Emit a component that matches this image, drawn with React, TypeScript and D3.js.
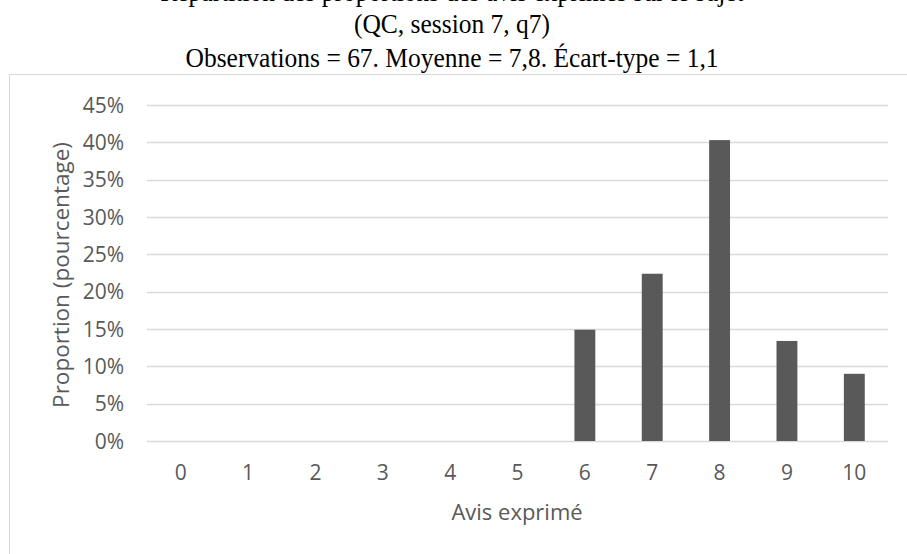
import React from "react";
import * as d3 from "d3";

const categories = ["0", "1", "2", "3", "4", "5", "6", "7", "8", "9", "10"];
const proportions = [0, 0, 0, 0, 0, 0, 0.149, 0.224, 0.403, 0.134, 0.09];
const yTicks = [0, 0.05, 0.1, 0.15, 0.2, 0.25, 0.3, 0.35, 0.4, 0.45];
const titleLines = [
  "Répartition des proportions des avis exprimés sur le sujet",
  "(QC, session 7, q7)",
  "Observations = 67. Moyenne = 7,8. Écart-type = 1,1",
];
const xTitle = "Avis exprimé";
const yTitle = "Proportion (pourcentage)";

const W = 907;
const H = 554;
const TEXT = "#595959";
const GRID = "#d9d9d9";
const SANS = "'Open Sans', 'Noto Sans', sans-serif";

export default function App() {
  const x = d3
    .scaleBand<string>()
    .domain(categories)
    .range([147, 888])
    .paddingInner(0.69)
    .paddingOuter(0.345);
  const y = d3.scaleLinear().domain([0, 0.45]).range([441, 105]);
  const fmt = d3.format(".0%");
  const titleBaselines = [1, 33, 67];

  return (
    <svg
      width={W}
      height={H}
      style={{ position: "absolute", left: 0, top: 0, background: "#fff" }}
    >
      <rect x={9.5} y={74.5} width={W + 20} height={H} fill="#fff" stroke={GRID} strokeWidth={1} />
      {titleLines.map((t, i) => (
        <text
          key={i}
          transform={`translate(452,${titleBaselines[i]}) scale(1,1.1)`}
          textAnchor="middle"
          fontFamily="'Liberation Serif', 'Times New Roman', serif"
          fontSize={25.5}
          fill="#000"
        >
          {t}
        </text>
      ))}
      {yTicks.map((t) => (
        <g key={t}>
          <line x1={147} x2={888} y1={Math.round(y(t)) + 0.5} y2={Math.round(y(t)) + 0.5} stroke={GRID} strokeWidth={1.3} />
          <text x={124} y={y(t) + 7.5} textAnchor="end" fontFamily={SANS} fontSize={21} fill={TEXT}>
            {fmt(t)}
          </text>
        </g>
      ))}
      {categories.map((c, i) => (
        <g key={c}>
          {proportions[i] > 0 && (
            <rect
              x={x(c)}
              y={y(proportions[i])}
              width={x.bandwidth()}
              height={y(0) - y(proportions[i])}
              fill={TEXT}
            />
          )}
          <text
            x={(x(c) as number) + x.bandwidth() / 2}
            y={480}
            textAnchor="middle"
            fontFamily={SANS}
            fontSize={21}
            fill={TEXT}
          >
            {c}
          </text>
        </g>
      ))}
      <text x={517} y={520} textAnchor="middle" fontFamily={SANS} fontSize={22} fill={TEXT}>
        {xTitle}
      </text>
      <text
        transform={`translate(69,275) rotate(-90)`}
        textAnchor="middle"
        fontFamily={SANS}
        fontSize={22.5}
        fill={TEXT}
      >
        {yTitle}
      </text>
    </svg>
  );
}
